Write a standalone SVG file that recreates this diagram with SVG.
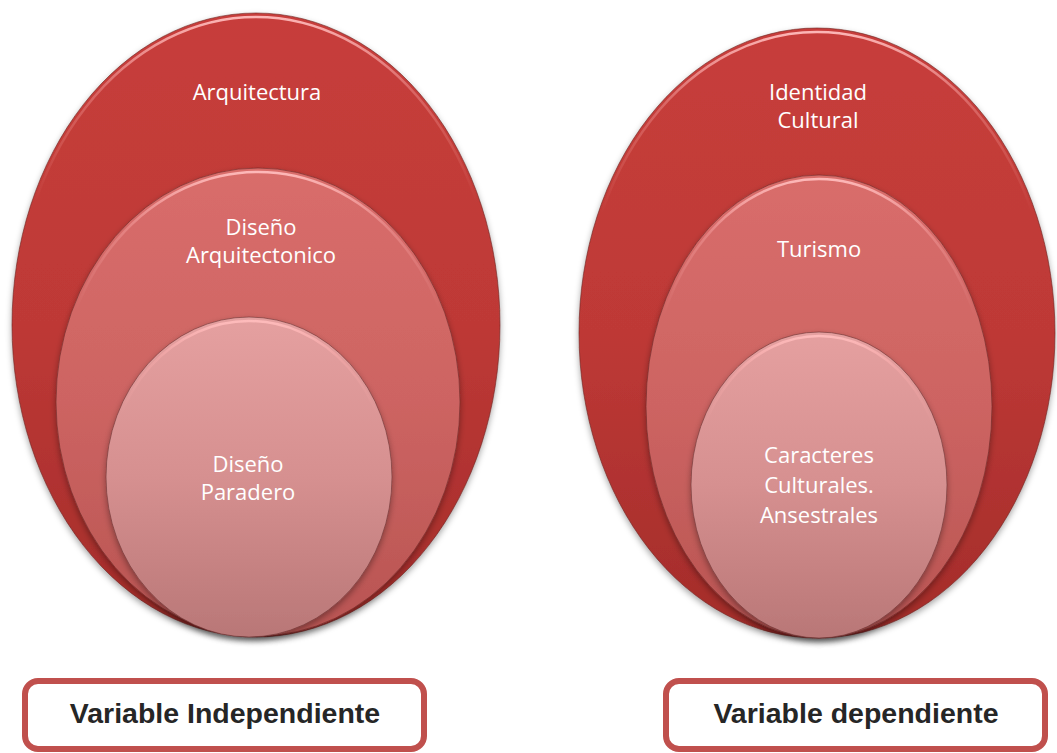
<svg xmlns="http://www.w3.org/2000/svg" width="1057" height="753" viewBox="0 0 1057 753">
<defs>
<linearGradient id="gOuter" x1="0" y1="0" x2="0" y2="1">
<stop offset="0" stop-color="#c73e3b"/>
<stop offset="0.5" stop-color="#be3936"/>
<stop offset="1" stop-color="#a32c2a"/>
</linearGradient>
<linearGradient id="gMid" x1="0" y1="0" x2="0" y2="1">
<stop offset="0" stop-color="#d96d6b"/>
<stop offset="0.5" stop-color="#cd6462"/>
<stop offset="1" stop-color="#b85452"/>
</linearGradient>
<linearGradient id="gIn" x1="0" y1="0" x2="0" y2="1">
<stop offset="0" stop-color="#e5a0a0"/>
<stop offset="0.5" stop-color="#d69090"/>
<stop offset="1" stop-color="#b97777"/>
</linearGradient>
<linearGradient id="gHi" x1="0" y1="0" x2="0" y2="1">
<stop offset="0" stop-color="#ffbcbc" stop-opacity="0.95"/>
<stop offset="0.12" stop-color="#ffb0b0" stop-opacity="0.35"/>
<stop offset="0.3" stop-color="#ffb0b0" stop-opacity="0"/>
<stop offset="1" stop-color="#ffb0b0" stop-opacity="0"/>
</linearGradient>
<filter id="sh" x="-10%" y="-10%" width="120%" height="125%">
<feDropShadow dx="0" dy="3" stdDeviation="3" flood-color="#000" flood-opacity="0.35"/>
</filter>
</defs>
<style>
.o{fill:url(#gOuter);stroke:#6b2422;stroke-opacity:0.6;stroke-width:1;filter:url(#sh)}
.m{fill:url(#gMid);stroke:#6b2a28;stroke-opacity:0.6;stroke-width:1;filter:url(#sh)}
.i{fill:url(#gIn);stroke:#6b3434;stroke-opacity:0.6;stroke-width:1;filter:url(#sh)}
.hi{fill:none;stroke:url(#gHi);stroke-width:2.5}
.t{font-family:"Open Sans","Noto Sans",sans-serif;font-size:22px;fill:#ffffff;text-anchor:middle}
.box{fill:#ffffff;stroke:#c0504d;stroke-width:6}
.bt{font-family:"Liberation Sans",Arial,sans-serif;font-weight:bold;font-size:28.5px;fill:#262626;text-anchor:middle}
</style>

<g id="left-outer">
<ellipse class="o" cx="256" cy="325" rx="244" ry="312"/>
<ellipse class="hi" cx="256" cy="326" rx="241" ry="309"/>
<text class="t" x="257" y="100">Arquitectura</text>
</g>
<g id="left-middle">
<ellipse class="m" cx="258" cy="402" rx="202" ry="234"/>
<ellipse class="hi" cx="258" cy="403" rx="199" ry="231"/>
<text class="t" x="261" y="235">Diseño</text>
<text class="t" x="261" y="263">Arquitectonico</text>
</g>
<g id="left-inner">
<ellipse class="i" cx="249" cy="477" rx="143" ry="160"/>
<ellipse class="hi" cx="249" cy="478" rx="140" ry="157"/>
<text class="t" x="248" y="472">Diseño</text>
<text class="t" x="248" y="500">Paradero</text>
</g>

<g id="right-outer">
<ellipse class="o" cx="817" cy="333" rx="238" ry="305"/>
<ellipse class="hi" cx="817" cy="334" rx="235" ry="302"/>
<text class="t" x="818" y="100">Identidad</text>
<text class="t" x="818" y="128">Cultural</text>
</g>
<g id="right-middle">
<ellipse class="m" cx="819" cy="406.5" rx="173" ry="231.5"/>
<ellipse class="hi" cx="819" cy="407.5" rx="170" ry="228.5"/>
<text class="t" x="819" y="257">Turismo</text>
</g>
<g id="right-inner">
<ellipse class="i" cx="819" cy="485" rx="128" ry="153"/>
<ellipse class="hi" cx="819" cy="486" rx="125" ry="150"/>
<text class="t" x="819" y="463">Caracteres</text>
<text class="t" x="819" y="493">Culturales.</text>
<text class="t" x="819" y="523">Ansestrales</text>
</g>

<g id="box-left">
<rect class="box" x="25" y="681" width="399" height="68" rx="13"/>
<text class="bt" x="225" y="723">Variable Independiente</text>
</g>
<g id="box-right">
<rect class="box" x="666" y="681" width="379" height="68" rx="13"/>
<text class="bt" x="856" y="723">Variable dependiente</text>
</g>
<g id="connectors"/>
</svg>
